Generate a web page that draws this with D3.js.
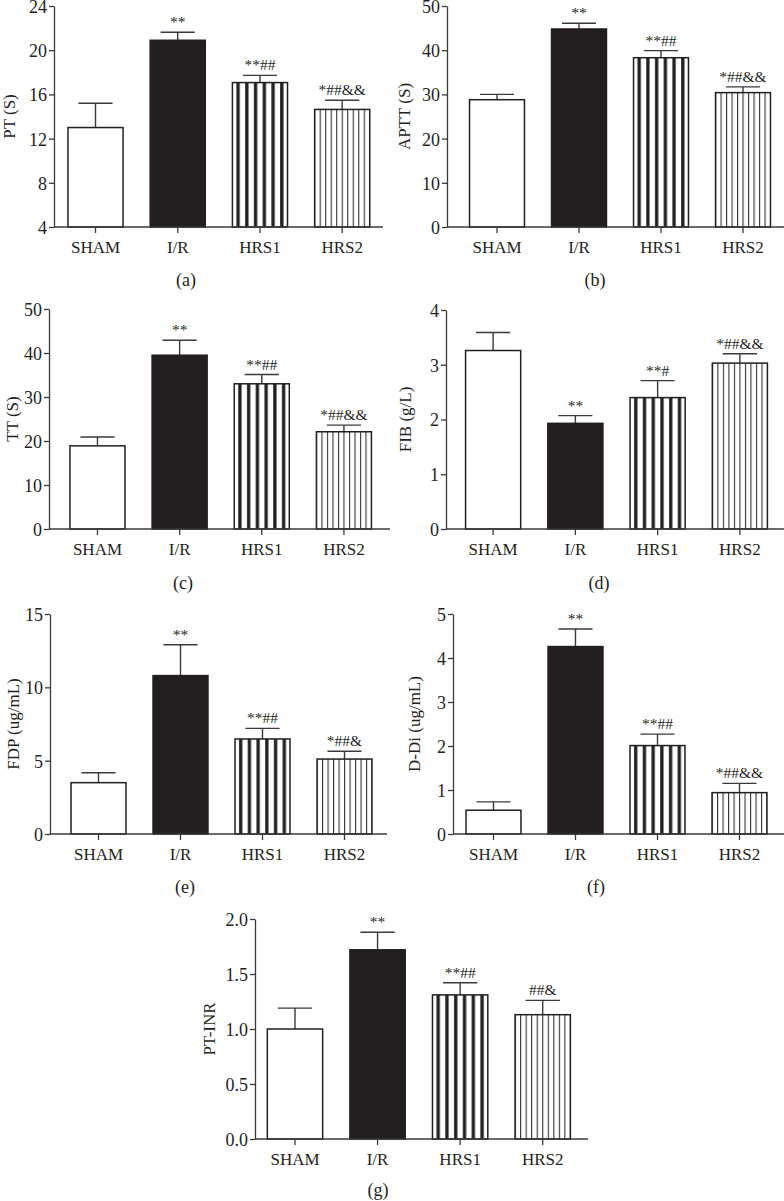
<!DOCTYPE html>
<html><head><meta charset="utf-8">
<script src="https://cdn.jsdelivr.net/npm/d3@7"></script>
<style>
body{margin:0;background:#fff}
svg{display:block}
text{font-family:"Liberation Serif","DejaVu Serif",serif;fill:#231f20}
</style>
</head><body>
<svg id="chart" width="784" height="1201"></svg>
<script>
// ---------- data ----------
const categories = ["SHAM", "I/R", "HRS1", "HRS2"];

const ptMean   = [13.0, 20.9, 17.07, 14.64];
const ptErr    = [2.2, 0.73, 0.65, 0.83];
const ptMarks  = ["", "**", "**##", "*##&&"];
const ptTicks  = [4, 8, 12, 16, 20, 24];

const apttMean  = [28.8, 44.8, 38.3, 30.4];
const apttErr   = [1.2, 1.3, 1.6, 1.3];
const apttMarks = ["", "**", "**##", "*##&&"];
const apttTicks = [0, 10, 20, 30, 40, 50];

const ttMean  = [18.9, 39.5, 33.0, 22.1];
const ttErr   = [2.0, 3.4, 2.1, 1.5];
const ttMarks = ["", "**", "**##", "*##&&"];
const ttTicks = [0, 10, 20, 30, 40, 50];

const fibMean  = [3.26, 1.93, 2.40, 3.03];
const fibErr   = [0.33, 0.14, 0.31, 0.17];
const fibMarks = ["", "**", "**#", "*##&&"];
const fibTicks = [0, 1, 2, 3, 4];

const fdpMean  = [3.5, 10.8, 6.48, 5.11];
const fdpErr   = [0.68, 2.1, 0.72, 0.53];
const fdpMarks = ["", "**", "**##", "*##&"];
const fdpTicks = [0, 5, 10, 15];

const ddiMean  = [0.54, 4.26, 2.01, 0.94];
const ddiErr   = [0.19, 0.40, 0.26, 0.21];
const ddiMarks = ["", "**", "**##", "*##&&"];
const ddiTicks = [0, 1, 2, 3, 4, 5];

const inrMean  = [1.0, 1.72, 1.31, 1.13];
const inrErr   = [0.19, 0.16, 0.11, 0.13];
const inrMarks = ["", "**", "**##", "##&"];
const inrTicks = [0.0, 0.5, 1.0, 1.5, 2.0];

const yLabels  = ["PT (S)", "APTT (S)", "TT (S)", "FIB (g/L)", "FDP (ug/mL)", "D-Di (ug/mL)", "PT-INR"];
const captions = ["(a)", "(b)", "(c)", "(d)", "(e)", "(f)", "(g)"];

// ---------- layout ----------
const panels = [
  {mean: ptMean,   err: ptErr,   marks: ptMarks,   ticks: ptTicks,   fmt: d3.format("d"),
   axisX: 54,  bandA: 54.4, bandB: 383.3, xEnd: 383, yTop: 6,   yBot: 227,  labX: 9,   capX: 186, capY: 280},
  {mean: apttMean, err: apttErr, marks: apttMarks, ticks: apttTicks, fmt: d3.format("d"),
   axisX: 447, bandA: 456,  bandB: 784,   xEnd: 784, yTop: 6,   yBot: 227,  labX: 404, capX: 595, capY: 280},
  {mean: ttMean,   err: ttErr,   marks: ttMarks,   ticks: ttTicks,   fmt: d3.format("d"),
   axisX: 49,  bandA: 56.4, bandB: 385,   xEnd: 390, yTop: 309, yBot: 529,  labX: 12,  capX: 183, capY: 583},
  {mean: fibMean,  err: fibErr,  marks: fibMarks,  ticks: fibTicks,  fmt: d3.format("d"),
   axisX: 446, bandA: 452,  bandB: 781,   xEnd: 784, yTop: 310, yBot: 529,  labX: 405, capX: 599, capY: 583},
  {mean: fdpMean,  err: fdpErr,  marks: fdpMarks,  ticks: fdpTicks,  fmt: d3.format("d"),
   axisX: 50,  bandA: 57.5, bandB: 385.5, xEnd: 387, yTop: 614, yBot: 834,  labX: 13,  capX: 185, capY: 887},
  {mean: ddiMean,  err: ddiErr,  marks: ddiMarks,  ticks: ddiTicks,  fmt: d3.format("d"),
   axisX: 453, bandA: 452.5, bandB: 780.5, xEnd: 784, yTop: 614, yBot: 834, labX: 414, capX: 596, capY: 887},
  {mean: inrMean,  err: inrErr,  marks: inrMarks,  ticks: inrTicks,  fmt: d3.format(".1f"),
   axisX: 255, bandA: 253.7, bandB: 584, xEnd: 588,   yTop: 919, yBot: 1139, labX: 209, capX: 378, capY: 1190}
];

const INK = "#231f20";
const AXIS = "#3a3a3a";
const svg = d3.select("#chart");
const defs = svg.append("defs");

panels.forEach((p, pi) => {
  const g = svg.append("g");
  const x = d3.scaleBand().domain(categories).range([p.bandA, p.bandB]).paddingInner(0.33).paddingOuter(0.165);
  const y = d3.scaleLinear().domain([p.ticks[0], p.ticks[p.ticks.length - 1]]).range([p.yBot, p.yTop]);
  const bw = x.bandwidth();

  // patterns for HRS1 / HRS2
  categories.forEach((c, i) => {
    if (i === 2) {
      const per = bw / 6.3;
      const pat = defs.append("pattern").attr("id", `pat${pi}_${i}`)
        .attr("patternUnits", "userSpaceOnUse").attr("x", x(c)).attr("y", 0)
        .attr("width", per).attr("height", 2000);
      pat.append("rect").attr("width", per).attr("height", 2000).attr("fill", "#fff");
      pat.append("rect").attr("x", per * 0.46).attr("width", per * 0.38).attr("height", 2000).attr("fill", INK);
    } else if (i === 3) {
      const per = bw / 10;
      const pat = defs.append("pattern").attr("id", `pat${pi}_${i}`)
        .attr("patternUnits", "userSpaceOnUse").attr("x", x(c) - 0.5).attr("y", 0)
        .attr("width", per).attr("height", 2000);
      pat.append("rect").attr("width", per).attr("height", 2000).attr("fill", "#fff");
      pat.append("rect").attr("x", 0).attr("width", 1.1).attr("height", 2000).attr("fill", "#333");
    }
  });
  const fillOf = i => i === 0 ? "#fff" : i === 1 ? INK : `url(#pat${pi}_${i})`;

  // error bars
  const eb = g.append("g").attr("stroke", AXIS).attr("stroke-width", 1.4);
  categories.forEach((c, i) => {
    const cx = x(c) + bw / 2;
    const yt = y(p.mean[i] + p.err[i]);
    eb.append("line").attr("x1", cx).attr("x2", cx).attr("y1", y(p.mean[i])).attr("y2", yt);
    eb.append("line").attr("x1", cx - bw * 0.31).attr("x2", cx + bw * 0.31).attr("y1", yt).attr("y2", yt);
  });

  // bars
  g.append("g").selectAll("rect").data(categories).join("rect")
    .attr("x", d => x(d)).attr("width", bw)
    .attr("y", (d, i) => y(p.mean[i]))
    .attr("height", (d, i) => p.yBot - y(p.mean[i]))
    .attr("fill", (d, i) => fillOf(i))
    .attr("stroke", INK).attr("stroke-width", 1.5);

  // significance marks
  g.append("g").selectAll("text").data(categories).join("text")
    .attr("x", d => x(d) + bw / 2)
    .attr("y", (d, i) => y(p.mean[i] + p.err[i]) - 5)
    .attr("text-anchor", "middle").attr("font-size", 15.5)
    .text((d, i) => p.marks[i]);

  // y axis
  const ya = g.append("g").attr("transform", `translate(${p.axisX},0)`)
    .call(d3.axisLeft(y).tickValues(p.ticks).tickFormat(p.fmt).tickSize(5).tickPadding(2).tickSizeOuter(0));
  ya.selectAll("text").attr("font-size", 18).attr("dy", "0.36em").style("font-family", '"Liberation Serif",serif').attr("fill", INK);
  ya.selectAll("line,path").attr("stroke", AXIS).attr("stroke-width", 1.3);

  // x axis
  const xa = g.append("g").attr("transform", `translate(0,${p.yBot})`)
    .call(d3.axisBottom(x).tickSize(6).tickPadding(8).tickSizeOuter(0));
  xa.select(".domain").remove();
  xa.selectAll("text").attr("font-size", 17).style("font-family", '"Liberation Serif",serif').attr("fill", INK);
  xa.selectAll("line").attr("stroke", AXIS).attr("stroke-width", 1.3);
  g.append("line").attr("x1", p.axisX).attr("x2", p.xEnd).attr("y1", p.yBot).attr("y2", p.yBot)
    .attr("stroke", AXIS).attr("stroke-width", 1.3);

  // y label
  g.append("text")
    .attr("transform", `translate(${p.labX},${(p.yTop + p.yBot) / 2}) rotate(-90)`)
    .attr("text-anchor", "middle").attr("dy", "0.35em").attr("font-size", 17)
    .text(yLabels[pi]);

  // caption
  g.append("text").attr("x", p.capX).attr("y", p.capY).attr("dy", "0.35em")
    .attr("text-anchor", "middle").attr("font-size", 18)
    .text(captions[pi]);
});
</script>
</body></html>
